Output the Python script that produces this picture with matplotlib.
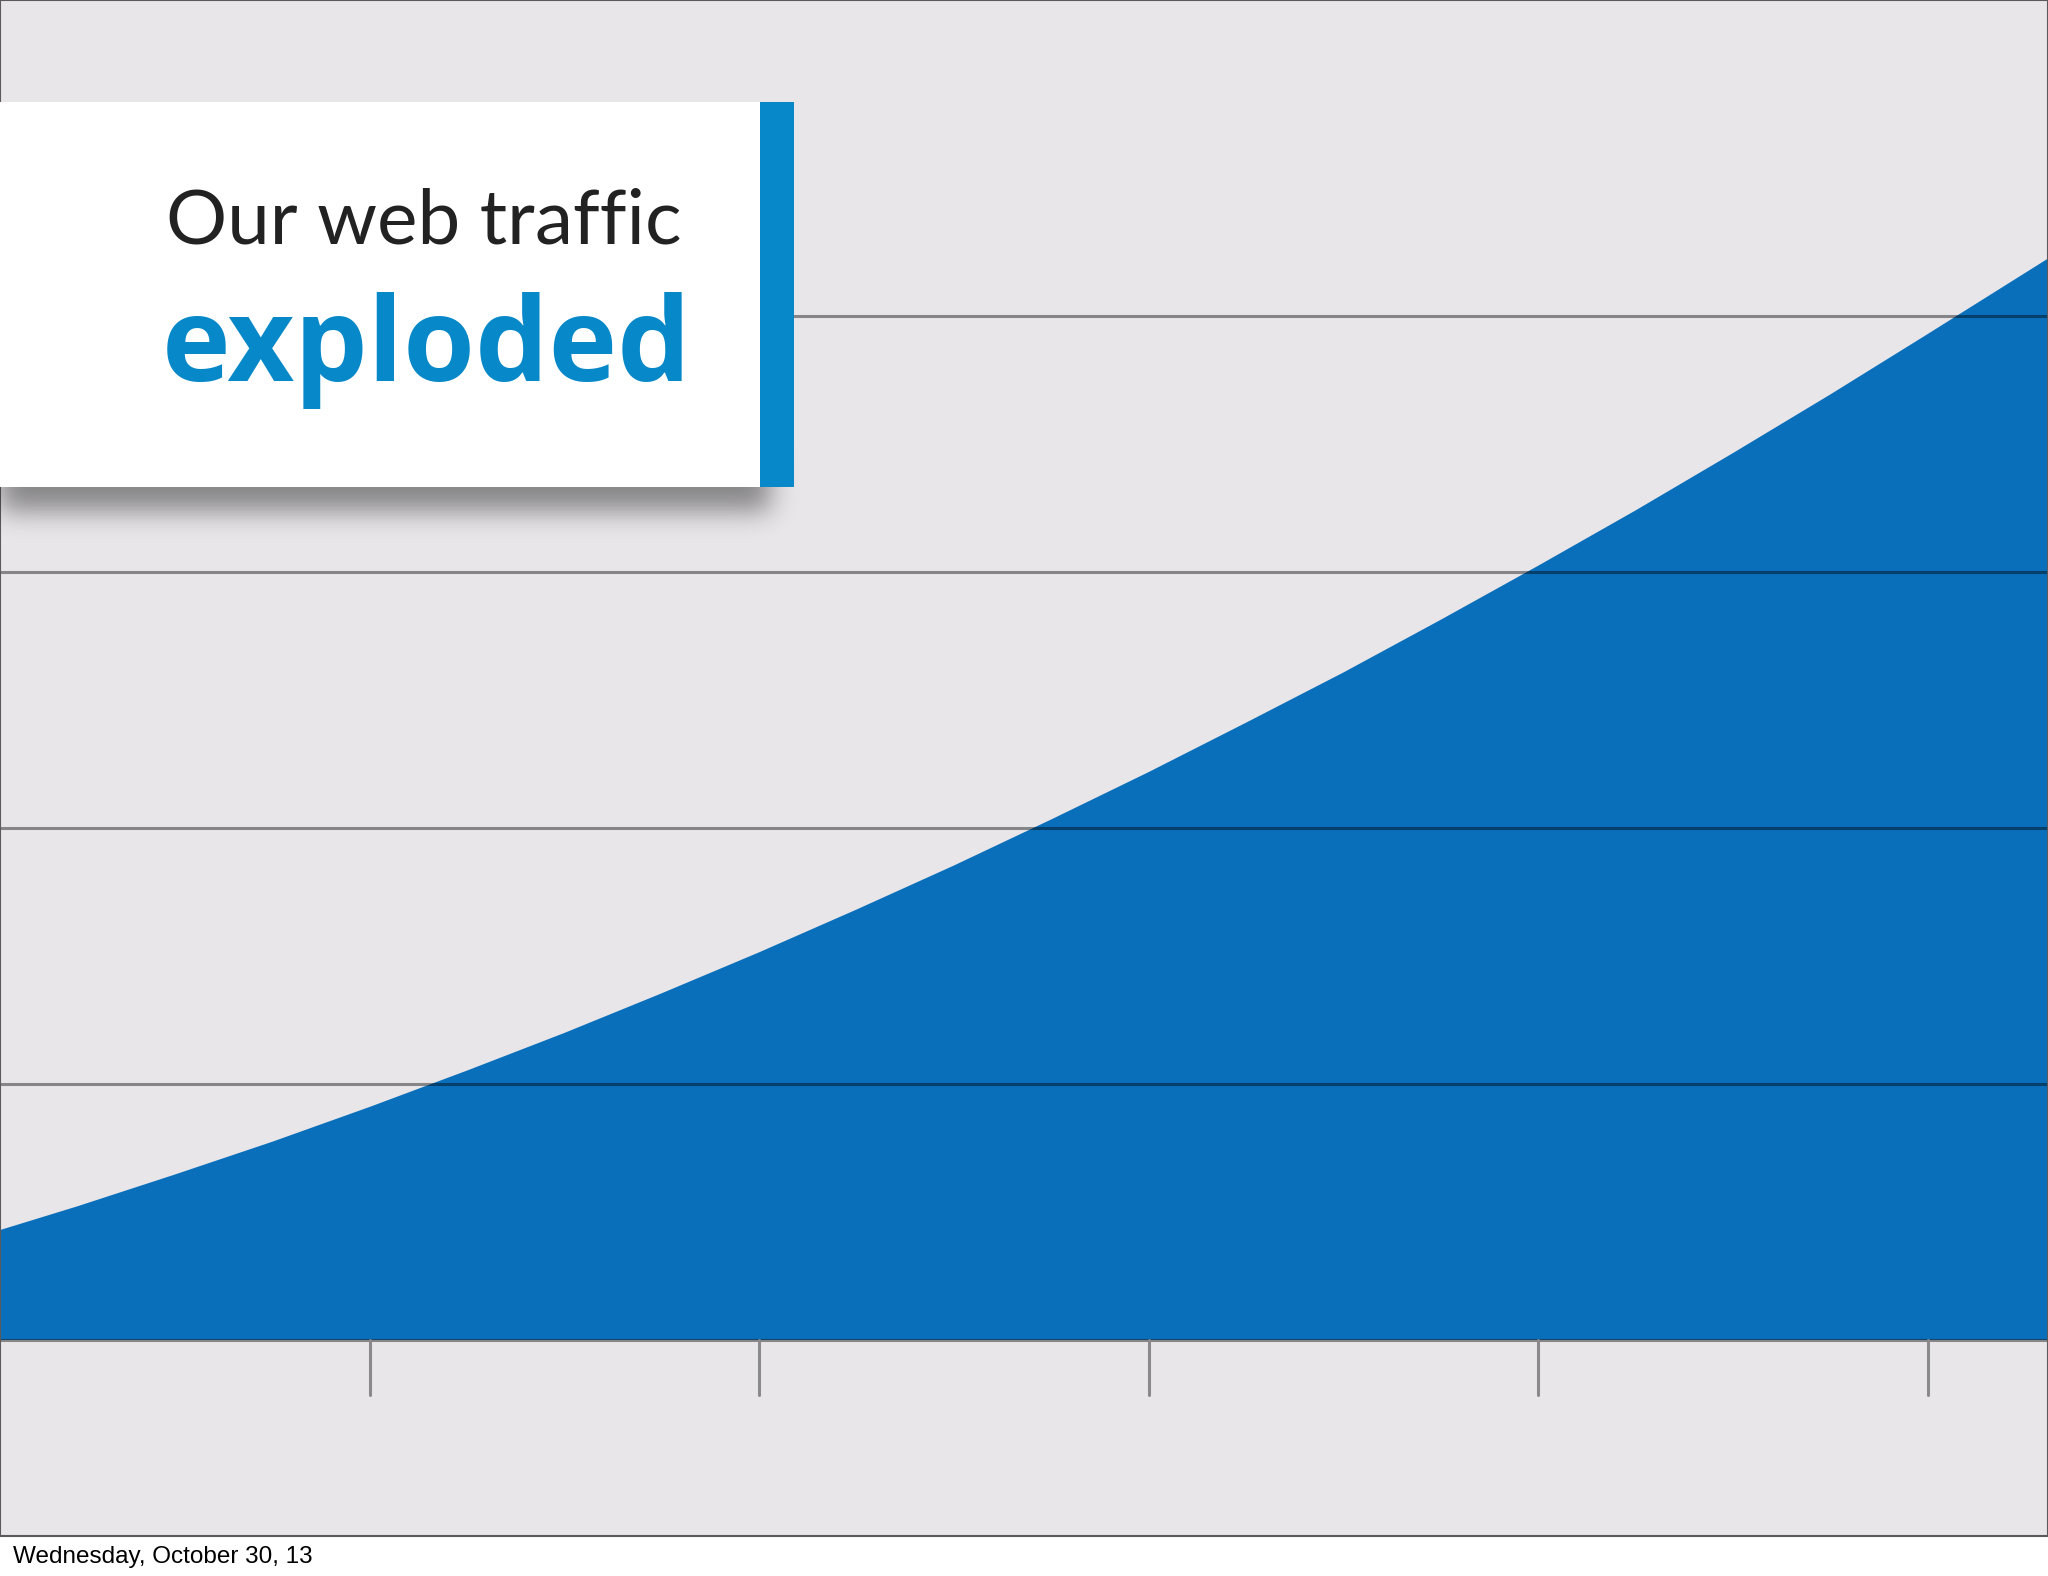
import numpy as np
import matplotlib
matplotlib.use("Agg")
import matplotlib.pyplot as plt
from matplotlib.patches import Rectangle

# data (x in tick units, y in gridline units)
x_pos = [0.051, 0.25, 0.5, 0.75, 1.0, 1.25, 1.5, 1.75, 2.0, 2.25, 2.5, 2.75,
         3.0, 3.25, 3.5, 3.75, 4.0, 4.25, 4.5, 4.75, 5.0, 5.309]
traffic = [0.429, 0.522, 0.646, 0.774, 0.910, 1.052, 1.199, 1.354, 1.514, 1.681, 1.853, 2.033,
           2.218, 2.411, 2.607, 2.813, 3.024, 3.240, 3.464, 3.693, 3.929, 4.224]
tick_pos = [1, 2, 3, 4, 5]
grid_levels = [1, 2, 3, 4]

BG = "#e8e6e9"; FILL = "#0a6fba"; ACCENT = "#0788c9"; INK = "#222222"; GRID = "#8a898c"

W, H = 2048, 1576
fig = plt.figure(figsize=(W / 100, H / 100), dpi=100)
fig.patch.set_facecolor("white")

ax = fig.add_axes([0, 40 / H, 1, 1 - 40 / H])
ax.set_facecolor(BG)
ax.set_xlim(0.051, 5.309)
ax.set_ylim(-0.766, 5.234)
ax.set_xticks([]); ax.set_yticks([])
for s in ax.spines.values():
    s.set_color("#5a5a5c"); s.set_linewidth(1.5)

ax.fill_between(x_pos, 0, traffic, color=FILL, lw=0, zorder=1)
# gridlines: translucent black reads grey on the background, navy on the fill
for g in grid_levels:
    ax.axhline(g, color="black", alpha=0.42, lw=2.2, zorder=2)
ax.axhline(0, color="black", alpha=0.42, lw=2.2, zorder=2)
for t in tick_pos:
    ax.plot([t, t], [0, -0.214], color=GRID, lw=2.2, solid_capstyle="round", zorder=2)

# ---- title card with drop shadow ----
bx0, bx1, by0, by1 = 0, 760, 102, 487      # pixels from top-left
sh = np.zeros((H, W))
sh[by1 - 40:by1 + 24, bx0:bx1 + 10] = 1.0
k = np.exp(-0.5 * (np.arange(-45, 46) / 13.0) ** 2); k /= k.sum()
sh = np.apply_along_axis(lambda r: np.convolve(r, k, mode="same"), 0, sh[:700])
sh = np.apply_along_axis(lambda r: np.convolve(r, k, mode="same"), 1, sh)
rgba = np.zeros((700, W, 4)); rgba[..., 3] = sh * 0.42
fig.figimage(rgba, xo=0, yo=H - 700, origin="upper", zorder=1)

fig.add_artist(Rectangle((bx0 / W, 1 - by1 / H), (bx1 - bx0) / W, (by1 - by0) / H,
                         transform=fig.transFigure, facecolor="white", lw=0, zorder=3))
fig.add_artist(Rectangle((bx1 / W, 1 - by1 / H), 34 / W, (by1 - by0) / H,
                         transform=fig.transFigure, facecolor=ACCENT, lw=0, zorder=3))

fig.text(166 / W, 1 - 244 / H, "Our web traffic", fontsize=55, family="Lato",
         color=INK, va="baseline", ha="left", zorder=4)
fig.text(162 / W, 1 - 381 / H, "exploded", fontsize=83.5, family="Open Sans", fontweight="bold",
         color=ACCENT, va="baseline", ha="left", zorder=4)

fig.text(13 / W, 1 - 1563 / H, "Wednesday, October 30, 13", fontsize=17.5,
         family="Liberation Sans", color="black", va="baseline", ha="left")

fig.savefig("out.png", dpi=100, facecolor="white")
